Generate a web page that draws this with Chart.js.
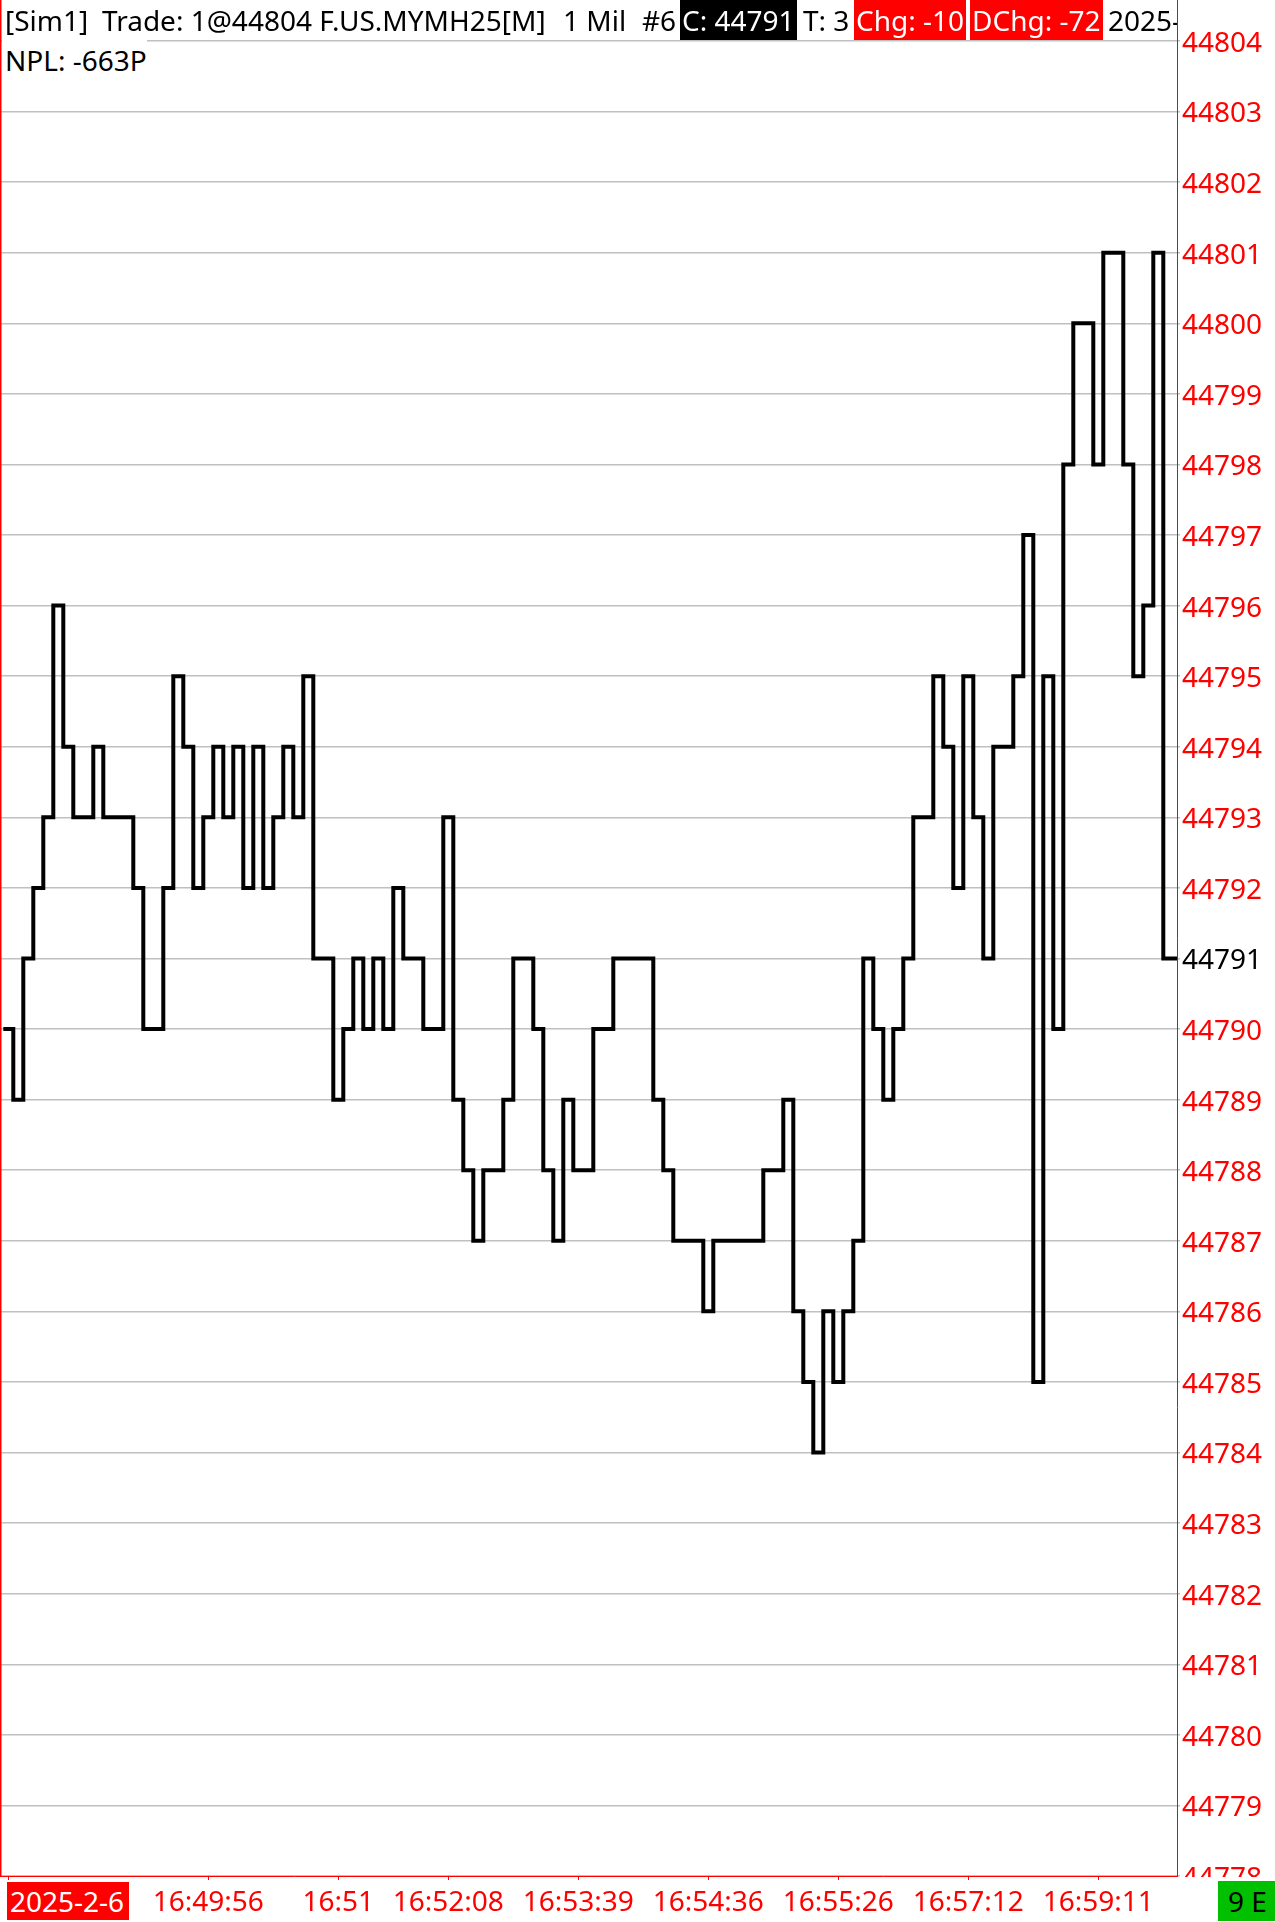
<!DOCTYPE html>
<html>
<head>
<meta charset="utf-8">
<script src="https://cdn.jsdelivr.net/npm/chart.js@4.4.1/dist/chart.umd.min.js"></script>
<style>
  html, body { margin: 0; padding: 0; background: #fff; }
  body { width: 1275px; height: 1922px; position: relative; overflow: hidden;
         font-family: "Noto Sans", sans-serif; font-size: 28px; color: #000; }
  #c { position: absolute; left: 0; top: 0; }
  .hdr { position: absolute; left: 2px; top: 0; width: 1175px; height: 40px; overflow: hidden; }
  .hdr span { position: absolute; top: 0; height: 40px; line-height: 40px; white-space: nowrap; background: #fff; }
  .hdr span.inv { background: #000; color: #fff; padding: 0 2px; }
  .hdr span.neg { background: #f00; color: #fff; padding: 0 2px; }
  .npl { position: absolute; left: 2px; top: 40px; width: 145px; height: 40px; line-height: 40px;
         padding-left: 3px; box-sizing: border-box; background: #fff; white-space: nowrap; }
  .date { position: absolute; left: 7px; top: 1882px; width: 122px; height: 38px; line-height: 38px;
          background: #f00; color: #fff; padding-left: 3px; box-sizing: border-box; }
  .conn { position: absolute; left: 1218px; top: 1881px; width: 57px; height: 40px; line-height: 40px;
          background: #00c000; color: #000; padding-left: 10px; box-sizing: border-box; }
</style>
</head>
<body>
<canvas id="c" width="1275" height="1922"></canvas>
<div class="hdr" id="hdr"></div>
<div class="npl" id="npl"></div>
<div class="date" id="date"></div>
<div class="conn" id="conn"></div>
<script>
// tick-by-tick trade prices, one step per trade
const prices = [
  44790, 44789, 44791, 44792, 44793, 44796, 44794, 44793, 44793, 44794,
  44793, 44793, 44793, 44792, 44790, 44790, 44792, 44795, 44794, 44792,
  44793, 44794, 44793, 44794, 44792, 44794, 44792, 44793, 44794, 44793,
  44795, 44791, 44791, 44789, 44790, 44791, 44790, 44791, 44790, 44792,
  44791, 44791, 44790, 44790, 44793, 44789, 44788, 44787, 44788, 44788,
  44789, 44791, 44791, 44790, 44788, 44787, 44789, 44788, 44788, 44790,
  44790, 44791, 44791, 44791, 44791, 44789, 44788, 44787, 44787, 44787,
  44786, 44787, 44787, 44787, 44787, 44787, 44788, 44788, 44789, 44786,
  44785, 44784, 44786, 44785, 44786, 44787, 44791, 44790, 44789, 44790,
  44791, 44793, 44793, 44795, 44794, 44792, 44795, 44793, 44791, 44794,
  44794, 44795, 44797, 44785, 44795, 44790, 44798, 44800, 44800, 44798,
  44801, 44801, 44798, 44795, 44796, 44801, 44791
];

// time axis: trade index of each labelled tick and its label
const timeTickIdx = [0, 20, 33, 44, 57, 70, 83, 96, 109];
const timeTickLabels = ['', '16:49:56', '16:51', '16:52:08', '16:53:39', '16:54:36', '16:55:26', '16:57:12', '16:59:11'];
const sessionDate = '2025-2-6';

// header values
const account = 'Sim1';
const tradeInfo = 'Trade: 1@44804 F.US.MYMH25[M]';
const barType = '1 Mil';
const barNo = '#6';
const lastPrice = prices[prices.length - 1];
const tickCount = 3;
const chg = -10;
const dayChg = -72;
const netPL = '-663P';
const connState = '9 E';

const X_MIN = -0.33, X_MAX = 117.37;
const Y_MIN = 44778, Y_MAX = 44804.58;
const FONT = '"Noto Sans", sans-serif';

// header strip
const hdrParts = [
  { t: '[' + account + ']', x: 3 },
  { t: tradeInfo, x: 100 },
  { t: barType, x: 561 },
  { t: barNo, x: 640 },
  { t: 'C: ' + lastPrice, x: 678, cls: 'inv' },
  { t: 'T: ' + tickCount, x: 801 },
  { t: 'Chg: ' + chg, x: 852, cls: 'neg' },
  { t: 'DChg: ' + dayChg, x: 968, cls: 'neg' },
  { t: sessionDate.slice(0, 5), x: 1106 }
];
const hdr = document.getElementById('hdr');
hdrParts.forEach(p => {
  const s = document.createElement('span');
  s.textContent = p.t;
  s.style.left = p.x + 'px';
  if (p.cls) s.className = p.cls;
  hdr.appendChild(s);
});
document.getElementById('npl').textContent = 'NPL: ' + netPL;
document.getElementById('date').textContent = sessionDate;
document.getElementById('conn').textContent = connState;

// price labels are cut off at the bottom of the plot, like the original
const clipYLabels = {
  id: 'clipYLabels',
  afterLayout(chart) {
    const s = chart.scales.y;
    if (s._clipped) return;
    const orig = s.drawLabels;
    s.drawLabels = function (area) {
      const ctx = this.ctx;
      ctx.save();
      ctx.beginPath();
      ctx.rect(this.left, 0, this.width, chart.chartArea.bottom + 1);
      ctx.clip();
      orig.call(this, area);
      ctx.restore();
    };
    s._clipped = true;
  },
  afterDraw(chart) {
    const ctx = chart.ctx;
    ctx.save();
    ctx.fillStyle = '#f00';
    ctx.fillRect(0, 0, 1.5, chart.chartArea.bottom + 1);
    ctx.restore();
  }
};

const points = prices.map((p, i) => ({ x: i, y: p }));
points.push({ x: X_MAX, y: lastPrice });

new Chart(document.getElementById('c'), {
  type: 'line',
  data: {
    datasets: [{
      data: points,
      borderColor: '#000',
      borderWidth: 4,
      stepped: true,
      pointRadius: 0,
      fill: false
    }]
  },
  options: {
    responsive: false,
    animation: false,
    devicePixelRatio: 1,
    layout: { padding: 0 },
    plugins: { legend: { display: false }, tooltip: { enabled: false } },
    scales: {
      x: {
        type: 'linear',
        min: X_MIN,
        max: X_MAX,
        afterBuildTicks: s => { s.ticks = timeTickIdx.map(i => ({ value: i + 0.5 })); },
        afterFit: s => { s.height = 46; s.paddingLeft = 0; s.paddingRight = 0; },
        grid: { drawOnChartArea: false, color: '#f00', tickLength: 4 },
        border: { color: '#f00', width: 1 },
        ticks: {
          autoSkip: false,
          maxRotation: 0,
          padding: 6,
          color: '#f00',
          font: { family: FONT, size: 28 },
          callback: v => timeTickLabels[timeTickIdx.indexOf(Math.round(v - 0.5))]
        }
      },
      y: {
        position: 'right',
        min: Y_MIN,
        max: Y_MAX,
        afterFit: s => { s.width = 98; s.paddingTop = 0; s.paddingBottom = 0; },
        grid: { color: '#c0c0c0', lineWidth: 1.5, tickLength: 3 },
        border: { color: '#f00', width: 1 },
        ticks: {
          stepSize: 1,
          maxTicksLimit: 100,
          includeBounds: false,
          padding: 2,
          labelOffset: 3,
          color: c => (c.tick && c.tick.value === lastPrice ? '#000' : '#f00'),
          font: { family: FONT, size: 28 },
          callback: v => String(v)
        }
      }
    }
  },
  plugins: [clipYLabels]
});
</script>
</body>
</html>
